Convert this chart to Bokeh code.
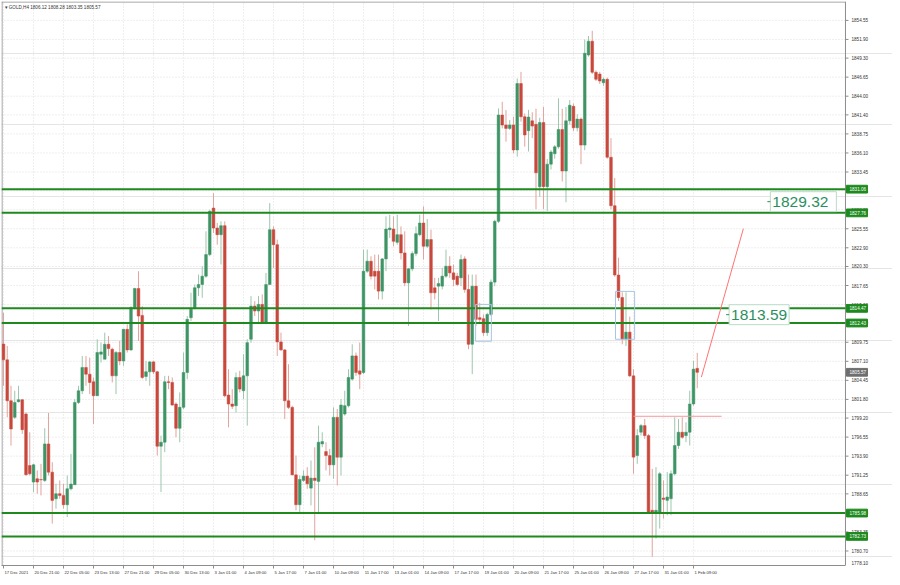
from bokeh.plotting import figure
from bokeh.models import FixedTicker, CustomJSTickFormatter, Range1d, Label
from bokeh.core.properties import value
from bokeh.embed import file_html
from bokeh.resources import INLINE

# ---------------- data (GOLD H4, one entry per bar) ----------------
opens = [1809.50, 1807.30, 1801.61, 1799.30, 1801.47, 1801.75, 1799.76, 1792.60, 1790.29, 1790.75,
         1790.66, 1790.52, 1795.60, 1791.67, 1787.97, 1788.67, 1788.44, 1787.14, 1789.36, 1789.92,
         1801.38, 1803.00, 1806.24, 1805.31, 1804.25, 1802.31, 1808.09, 1807.39, 1809.47, 1808.78,
         1805.08, 1808.32, 1807.16, 1811.55, 1808.69, 1814.56, 1817.24, 1813.49, 1804.99, 1805.64,
         1807.02, 1805.64, 1795.28, 1795.84, 1804.25, 1804.16, 1801.15,
         1797.78, 1800.69, 1805.54, 1813.17, 1814.56, 1817.33, 1817.79, 1818.95, 1821.95, 1828.43,
         1825.65, 1824.73, 1825.98, 1802.40, 1801.15, 1800.92, 1804.85, 1803.00, 1805.08, 1810.17,
         1814.79, 1814.10, 1815.02, 1812.57, 1817.79, 1825.42, 1823.34, 1809.80, 1808.69, 1801.61,
         1800.69, 1791.30, 1787.14, 1790.52, 1791.12, 1789.45, 1790.84, 1790.38, 1795.60, 1794.54,
         1793.98, 1792.69, 1799.30, 1793.75, 1799.76, 1800.92, 1804.62, 1807.85,
         1805.77, 1805.54, 1819.64, 1821.03, 1819.64, 1819.64, 1816.87, 1821.35, 1825.42, 1825.51,
         1823.66, 1824.73, 1822.19, 1818.02, 1819.97, 1822.09, 1824.73, 1826.35, 1823.11, 1824.04,
         1817.33, 1817.56, 1817.56, 1818.95, 1820.34, 1819.41, 1818.95, 1818.72, 1821.35, 1817.10,
         1809.47, 1817.56, 1813.17, 1813.03, 1811.09, 1813.63, 1818.12, 1826.58, 1841.37, 1839.98,
         1839.52, 1839.98, 1836.52, 1845.76, 1841.14, 1839.20,
         1840.57, 1840.08, 1831.41, 1840.33, 1831.41, 1834.54, 1835.99, 1836.95, 1839.36, 1833.58,
         1840.57, 1842.59, 1839.60, 1840.81, 1837.19, 1849.73, 1851.66, 1847.32, 1847.08, 1845.87,
         1846.35, 1835.50, 1828.76, 1819.11, 1815.98, 1810.19, 1811.16,
         1805.08, 1793.99, 1797.23, 1798.15, 1796.76, 1786.36, 1786.04, 1786.13, 1788.07, 1787.75,
         1787.98, 1791.45, 1795.38, 1797.23, 1796.76, 1797.23, 1801.16, 1806.12]
highs = [1813.86, 1809.24, 1803.69, 1803.00, 1803.69, 1801.84, 1799.99, 1797.22, 1792.83, 1791.91,
         1792.83, 1797.78, 1799.90, 1793.06, 1790.06, 1790.52, 1790.06, 1791.21, 1794.21, 1801.84,
         1803.69, 1807.85, 1807.85, 1807.62, 1804.85, 1810.17, 1809.70, 1811.09, 1810.63, 1809.00,
         1808.55, 1809.93, 1811.60, 1812.25, 1814.79, 1817.33, 1819.64, 1814.79, 1807.16, 1807.16,
         1807.16, 1805.77, 1796.76, 1805.08, 1805.08, 1804.85, 1801.38,
         1802.77, 1808.32, 1813.40, 1816.64, 1817.79, 1819.18, 1820.34, 1825.19, 1828.20, 1830.50,
         1826.35, 1826.58, 1826.58, 1806.00, 1803.23, 1805.54, 1805.77, 1808.09, 1810.17, 1816.18,
         1815.48, 1816.18, 1816.41, 1819.41, 1829.12, 1825.88, 1824.04, 1811.09, 1808.78, 1806.70,
         1800.92, 1793.98, 1791.21, 1791.91, 1792.37, 1793.29, 1795.14, 1798.15, 1797.22, 1795.84,
         1794.91, 1800.69, 1800.46, 1801.84, 1803.00, 1806.00, 1809.47, 1808.32,
         1809.70, 1822.65, 1822.65, 1821.72, 1821.95, 1821.95, 1821.49, 1827.27, 1827.50, 1827.27,
         1827.50, 1825.88, 1825.19, 1820.11, 1822.42, 1825.88, 1827.50, 1828.66, 1826.90, 1825.42,
         1818.72, 1818.72, 1820.11, 1822.65, 1821.72, 1820.57, 1819.41, 1821.95, 1821.72, 1819.18,
         1819.18, 1819.18, 1815.25, 1813.63, 1813.86, 1818.49, 1826.81, 1842.30, 1843.22, 1842.07,
         1840.68, 1841.14, 1846.46, 1847.38, 1841.60, 1842.10,
         1841.77, 1842.26, 1841.00, 1842.50, 1835.26, 1836.50, 1837.20, 1843.70, 1842.26, 1842.50,
         1843.46, 1842.98, 1841.50, 1841.05, 1851.90, 1852.38, 1853.10, 1847.60, 1847.40, 1846.60,
         1846.59, 1838.16, 1832.61, 1821.52, 1816.70, 1816.70, 1813.33,
         1806.01, 1797.69, 1798.38, 1799.07, 1796.99, 1792.14, 1792.37, 1791.68, 1790.52, 1791.68,
         1791.91, 1799.31, 1799.07, 1799.31, 1798.61, 1803.00, 1807.17, 1808.28]
lows = [1803.69, 1799.30, 1795.37, 1799.07, 1801.38, 1797.00, 1791.21, 1791.21, 1788.90, 1788.67,
        1788.44, 1790.29, 1791.21, 1784.51, 1786.59, 1787.97, 1786.59, 1785.43, 1789.13, 1789.90,
        1801.15, 1802.54, 1803.69, 1802.54, 1798.38, 1802.31, 1806.93, 1807.39, 1807.85, 1804.16,
        1802.54, 1806.56, 1806.47, 1808.32, 1808.55, 1814.33, 1809.93, 1804.62, 1804.39, 1803.69,
        1805.31, 1793.98, 1788.90, 1794.45, 1803.23, 1800.92, 1796.53,
        1795.84, 1800.46, 1804.62, 1812.71, 1814.33, 1816.18, 1815.94, 1818.72, 1821.72, 1824.96,
        1823.34, 1820.57, 1802.08, 1797.91, 1800.46, 1799.99, 1802.77, 1801.84, 1798.15, 1809.70,
        1813.40, 1812.48, 1812.48, 1812.25, 1817.79, 1820.11, 1807.85, 1808.55, 1799.07, 1800.46,
        1791.21, 1786.36, 1786.13, 1790.29, 1789.36, 1787.05, 1782.20, 1786.13, 1795.14, 1791.91,
        1791.21, 1790.75, 1789.82, 1791.21, 1799.53, 1800.69, 1804.39, 1805.08,
        1803.23, 1805.31, 1819.41, 1818.49, 1817.10, 1815.71, 1815.71, 1819.64, 1824.27, 1823.11,
        1823.34, 1821.26, 1817.56, 1812.01, 1819.64, 1821.72, 1824.50, 1821.26, 1822.88, 1814.33,
        1815.71, 1812.71, 1817.10, 1818.72, 1818.72, 1817.56, 1817.56, 1817.56, 1816.64, 1808.78,
        1805.31, 1812.01, 1812.48, 1810.63, 1810.63, 1813.40, 1817.56, 1826.35, 1839.52, 1837.67,
        1839.29, 1836.06, 1835.59, 1840.45, 1836.98, 1836.30,
        1838.16, 1828.27, 1830.00, 1828.27, 1828.03, 1833.80, 1835.30, 1836.70, 1832.13, 1829.24,
        1840.08, 1839.12, 1839.10, 1834.54, 1836.47, 1849.50, 1847.08, 1846.10, 1845.70, 1845.40,
        1835.30, 1828.27, 1818.87, 1815.49, 1809.47, 1809.23, 1804.89,
        1791.45, 1792.83, 1796.76, 1796.30, 1786.00, 1779.89, 1782.43, 1783.82, 1785.20, 1785.67,
        1785.67, 1791.21, 1794.91, 1796.30, 1795.84, 1795.38, 1800.92, 1803.35]
closes = [1807.30, 1801.61, 1797.68, 1801.38, 1801.75, 1797.59, 1791.30, 1791.44, 1792.69, 1790.29,
          1790.60, 1795.60, 1791.67, 1787.74, 1788.67, 1788.44, 1787.14, 1789.36, 1790.01, 1801.38,
          1803.00, 1806.24, 1805.31, 1804.16, 1802.31, 1808.32, 1808.41, 1809.47, 1808.87, 1805.08,
          1808.32, 1807.16, 1811.55, 1808.69, 1814.56, 1817.24, 1813.40, 1804.85, 1805.64, 1807.02,
          1805.64, 1795.28, 1795.84, 1804.25, 1804.16, 1801.01, 1797.78,
          1800.69, 1805.54, 1812.94, 1814.33, 1817.33, 1817.79, 1818.95, 1821.95, 1827.97, 1825.65,
          1824.73, 1825.98, 1802.31, 1801.15, 1800.83, 1804.85, 1803.23, 1805.08, 1809.70, 1814.79,
          1814.10, 1815.02, 1812.57, 1817.79, 1825.42, 1823.34, 1809.80, 1808.69, 1801.61, 1800.69,
          1791.30, 1787.14, 1790.66, 1791.12, 1790.06, 1790.84, 1790.52, 1795.84, 1795.93, 1793.98,
          1792.69, 1799.30, 1793.75, 1801.01, 1800.92, 1804.85, 1807.85, 1805.54,
          1805.31, 1819.64, 1821.03, 1818.95, 1818.95, 1816.87, 1821.35, 1825.51, 1825.65, 1823.80,
          1824.73, 1822.19, 1818.02, 1819.97, 1822.09, 1824.87, 1826.35, 1823.11, 1824.04, 1816.64,
          1816.64, 1817.93, 1818.95, 1820.34, 1819.41, 1818.49, 1817.79, 1821.26, 1817.10, 1809.47,
          1817.56, 1812.94, 1812.94, 1811.09, 1813.63, 1818.12, 1826.58, 1841.37, 1839.98, 1839.52,
          1839.98, 1836.52, 1845.76, 1841.14, 1838.60, 1841.10,
          1839.84, 1833.33, 1840.33, 1831.41, 1834.54, 1836.23, 1836.95, 1839.36, 1833.58, 1840.57,
          1842.74, 1839.60, 1840.81, 1837.19, 1849.97, 1851.66, 1847.32, 1846.35, 1846.11, 1846.35,
          1835.50, 1828.76, 1819.11, 1815.98, 1810.19, 1811.16, 1805.08,
          1793.76, 1796.76, 1798.15, 1796.76, 1786.13, 1786.04, 1786.36, 1791.45, 1787.89, 1788.21,
          1791.45, 1795.38, 1797.23, 1796.53, 1797.23, 1801.16, 1806.01, 1805.57]

date_labels = ["17 Dec 2021", "20 Dec 21:00", "22 Dec 05:00", "23 Dec 13:00", "27 Dec 21:00",
               "29 Dec 05:00", "30 Dec 13:00", "3 Jan 01:00", "4 Jan 09:00", "5 Jan 17:00",
               "7 Jan 01:00", "10 Jan 09:00", "11 Jan 17:00", "13 Jan 01:00", "14 Jan 09:00",
               "17 Jan 17:00", "19 Jan 01:00", "20 Jan 09:00", "21 Jan 17:00", "25 Jan 01:00",
               "26 Jan 09:00", "27 Jan 17:00", "31 Jan 01:00", "1 Feb 09:00"]
date_label_bars = [0, 8, 16, 24, 32, 40, 48, 56, 64, 72, 80, 88, 96, 104, 112, 120, 128, 136,
                   144, 152, 160, 168, 176, 184]
price_ticks = [1854.55, 1851.90, 1849.30, 1846.65, 1844.00, 1841.40, 1838.75, 1836.10, 1833.45,
               1830.85, 1828.20, 1825.55, 1822.90, 1820.30, 1817.65, 1815.00, 1812.40, 1809.75,
               1807.10, 1804.45, 1801.80, 1799.20, 1796.55, 1793.90, 1791.25, 1788.65, 1786.00,
               1783.35, 1780.70, 1778.10]
levels = [1831.06, 1827.76, 1814.47, 1812.43, 1785.98, 1782.73]
last_price = 1805.57
title_text = "GOLD,H4  1806.12 1808.28 1803.35 1805.57"

# drawing objects on the chart (bar index, price)
trend_x = [186.1, 197.3]
trend_y = [1804.90, 1825.56]
hline_x = [168.0, 191.5]
hline_y = [1799.45, 1799.45]
box_left = [125.9, 163.2]
box_right = [130.1, 168.3]
box_top = [1815.02, 1816.83]
box_bottom = [1809.89, 1810.17]
note_x = [204.5, 193.5]
note_y = [1829.32, 1813.59]

# styling
FONT = "Liberation Sans"
note_box_px = [66, 60]
W, H = 892, 577
BL, BR, BT, BB = 1, 0, 1, 10
X0, XC, X1 = -0.533, 224.53, 237.07      # frame start, end of chart (price scale), frame end
Y0, Y1 = 1778.68, 1857.18
bar_px = (W - BL - BR) / (X1 - X0)
unit_px = (H - BT - BB) / (Y1 - Y0)

p = figure(width=W, height=H, x_range=Range1d(X0, X1), y_range=Range1d(Y0, Y1),
           output_backend="svg", toolbar_location=None, y_axis_location=None,
           min_border_left=BL, min_border_right=BR, min_border_top=BT, min_border_bottom=BB)
p.outline_line_color = None
p.background_fill_color = "white"
p.border_fill_color = "white"

# ---- time axis: labels start at their tick, as in the terminal ----
em = {" ": 0.278, ":": 0.278, "D": 0.722, "c": 0.5, "J": 0.5, "F": 0.611}
date_fs = 4.2
def half_width_bars(s):
    w = sum(em.get(ch, 0.556) for ch in s) * date_fs
    return (w / 2 + 1.0) / bar_px
label_centers = [b + half_width_bars(s) for b, s in zip(date_label_bars, date_labels)]
p.xaxis.ticker = FixedTicker(ticks=label_centers, minor_ticks=date_label_bars)
p.xaxis.formatter = CustomJSTickFormatter(args=dict(labels=date_labels),
                                          code="return labels[index];")
p.xaxis.bounds = (X0, XC)
p.xaxis.major_tick_out = 0
p.xaxis.major_tick_in = 0
p.xaxis.minor_tick_out = 3
p.xaxis.minor_tick_in = 0
p.xaxis.major_label_standoff = 1
p.xaxis.major_label_text_font = FONT
p.xaxis.major_label_text_font_size = "%.1fpx" % date_fs
p.xaxis.major_label_text_color = "#333333"
p.xaxis.axis_line_color = "#8c8c8c"
p.xaxis.minor_tick_line_color = "#8c8c8c"
p.xgrid.ticker = FixedTicker(ticks=date_label_bars)
p.xgrid.grid_line_color = "#dedede"
p.xgrid.grid_line_dash = "1 2"

# ---- horizontal grid (stops at the price scale) ----
p.segment(x0=[X0] * len(price_ticks), x1=[XC] * len(price_ticks), y0=price_ticks, y1=price_ticks,
          line_color="#dedede", line_dash="1 2", line_width=1)

# chart border (left, top) and price scale line
p.segment(x0=[X0 + 0.5 / bar_px, X0, XC], y0=[Y0, Y1 - 0.5 / unit_px, Y0],
          x1=[X0 + 0.5 / bar_px, XC, XC], y1=[Y1, Y1 - 0.5 / unit_px, Y1],
          line_color="#8c8c8c", line_width=1)

# ---- candles ----
up = [c >= o for o, c in zip(opens, closes)]
idx = list(range(len(opens)))
p.segment(x0=idx, x1=idx, y0=highs, y1=lows,
          line_color=["#9cc6ad" if u else "#e2a39d" for u in up], line_width=1)
p.vbar(x=idx, width=0.72,
       top=[max(o, c) for o, c in zip(opens, closes)],
       bottom=[min(o, c) - (0.07 if abs(c - o) < 0.05 else 0) for o, c in zip(opens, closes)],
       fill_color=["#3f9466" if u else "#c8483c" for u in up],
       line_color=["#3f9466" if u else "#c8483c" for u in up], line_width=0.5)

# ---- support / resistance levels ----
p.segment(x0=[X0] * len(levels), x1=[XC] * len(levels), y0=levels, y1=levels,
          line_color="#1e8a1e", line_width=2)

# ---- drawing objects ----
p.line(trend_x, trend_y, line_color="#ff7373", line_width=1)
p.line(hline_x, hline_y, line_color="#f39a9a", line_width=1)
p.quad(left=box_left, right=box_right, top=box_top, bottom=box_bottom,
       fill_color=None, line_color="#a8c6e4", line_width=1)

note_text = ["%.2f" % v for v in note_y]
note_h = 10 / unit_px
p.quad(left=note_x, right=[x + w / bar_px for x, w in zip(note_x, note_box_px)],
       top=[y + note_h for y in note_y], bottom=[y - note_h for y in note_y],
       fill_color="white", line_color="#b9dcc6", line_width=1)
p.text(x=note_x, y=note_y, text=note_text, x_offset=2, text_baseline="middle", text_align="left",
       text_font=value(FONT), text_font_size=value("15.5px"), text_color="#2a8f5e")
p.segment(x0=[x - 3 / bar_px for x in note_x], x1=note_x, y0=note_y, y1=note_y,
          line_color="#2a8f5e", line_width=1)

# ---- price scale (right) ----
tick_len = 3 / bar_px
p.segment(x0=[XC] * len(price_ticks), x1=[XC + tick_len] * len(price_ticks),
          y0=price_ticks, y1=price_ticks, line_color="#8c8c8c", line_width=1)
lab_min = Y0 + 2.8 / unit_px      # lowest label is lifted into view, as the terminal does
p.text(x=[XC] * len(price_ticks), y=[max(t, lab_min) for t in price_ticks],
       text=["%.2f" % t for t in price_ticks],
       x_offset=6, text_baseline="middle", text_align="left", text_font=value(FONT),
       text_font_size=value("4.6px"), text_color="#333333")

tag_h = 3.9 / unit_px
tag_l, tag_r = XC + 1 / bar_px, XC + 22 / bar_px
p.quad(left=[tag_l] * len(levels), right=[tag_r] * len(levels),
       top=[v + tag_h for v in levels], bottom=[v - tag_h for v in levels],
       fill_color="#1e8a1e", line_color="#1e8a1e")
p.text(x=[XC] * len(levels), y=levels, text=["%.2f" % v for v in levels], x_offset=4,
       text_baseline="middle", text_align="left", text_font=value(FONT),
       text_font_size=value("4.6px"), text_color="white")
p.quad(left=[tag_l], right=[tag_r], top=[last_price + tag_h], bottom=[last_price - tag_h],
       fill_color="#6e6e6e", line_color="#6e6e6e")
p.text(x=[XC], y=[last_price], text=["%.2f" % last_price], x_offset=4,
       text_baseline="middle", text_align="left", text_font=value(FONT),
       text_font_size=value("4.6px"), text_color="white")

# ---- title ----
p.add_layout(Label(x=X0, y=Y1, text="\u25be " + title_text, x_offset=3, y_offset=-3,
                   text_baseline="top", text_align="left", text_font=FONT,
                   text_font_size="4.6px", text_color="#333333"))

open("out.html", "w").write(file_html(p, INLINE))
